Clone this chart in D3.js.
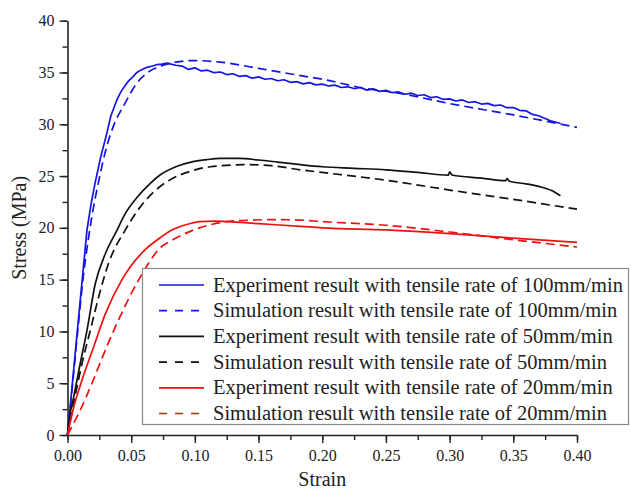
<!DOCTYPE html>
<html>
<head>
<meta charset="utf-8">
<script src="https://cdn.jsdelivr.net/npm/d3@7/dist/d3.min.js"></script>
<style>
  html, body { margin: 0; padding: 0; background: #fff; }
  svg { display: block; }
  text { font-family: "Liberation Serif", "Times New Roman", serif; fill: #222; }
</style>
</head>
<body>
<svg id="chart" width="631" height="489"></svg>
<script>
// Stress–strain curves: experiment vs simulation at three tensile rates

const exp100Strain = [0, 0.005, 0.010, 0.0153, 0.0185, 0.0216, 0.026, 0.0308, 0.034, 0.0386, 0.042, 0.045, 0.048, 0.0515,
  0.054, 0.057, 0.0624, 0.066, 0.070, 0.074, 0.078,
  0.085, 0.090, 0.095, 0.100, 0.105, 0.110, 0.115, 0.120, 0.125, 0.130, 0.135, 0.140, 0.145, 0.150, 0.155, 0.160,
  0.165, 0.170, 0.175, 0.180, 0.185, 0.190, 0.195, 0.200, 0.205, 0.210, 0.215, 0.220, 0.225, 0.230, 0.235, 0.240,
  0.245, 0.250, 0.255, 0.260, 0.265, 0.270, 0.275, 0.280, 0.285, 0.290, 0.295, 0.300, 0.305, 0.310, 0.315, 0.320,
  0.325, 0.330, 0.335, 0.340, 0.345, 0.350, 0.355, 0.360, 0.365, 0.370, 0.375, 0.380, 0.385, 0.387];
const exp100Stress = [0, 6.5, 13.0, 19.8, 22.3, 24.3, 26.8, 29.1, 30.8, 32.3, 33.15, 33.7, 34.2, 34.6,
  34.95, 35.2, 35.5, 35.6, 35.75, 35.8, 35.9,
  35.70, 35.62, 35.30, 35.45, 35.15, 35.22, 34.98, 35.05, 34.80, 34.88, 34.62, 34.70, 34.45, 34.58, 34.35, 34.42,
  34.20, 34.30, 34.05, 34.12, 33.90, 34.02, 33.80, 33.88, 33.70, 33.78, 33.55, 33.62, 33.45, 33.55, 33.30, 33.42,
  33.18, 33.28, 33.05, 33.12, 32.90, 33.00, 32.78, 32.85, 32.58, 32.66, 32.40, 32.45, 32.25, 32.35, 32.10, 32.18,
  31.95, 32.02, 31.80, 31.86, 31.60, 31.62, 31.35, 31.30, 30.95, 30.82, 30.55, 30.30, 30.15, 30.10];

const sim100Strain = [0, 0.0035, 0.008, 0.0125, 0.0166, 0.019, 0.025, 0.030, 0.036, 0.045, 0.0546, 0.063, 0.0726, 0.085,
  0.099, 0.120, 0.150, 0.183, 0.200, 0.232, 0.260, 0.300, 0.350, 0.400];
const sim100Stress = [0, 4.3, 10.0, 15.4, 19.1, 21.0, 24.8, 27.5, 29.8, 32.0, 34.0, 35.0, 35.6, 36.0,
  36.15, 36.0, 35.4, 34.7, 34.35, 33.5, 33.0, 32.0, 30.9, 29.7];

const exp50Strain = [0, 0.001, 0.0049, 0.010, 0.0153, 0.0218, 0.0297, 0.039, 0.045, 0.055, 0.065, 0.0726, 0.085, 0.0986,
  0.110, 0.120, 0.135, 0.150, 0.165, 0.183, 0.200, 0.225, 0.250, 0.275, 0.299, 0.300, 0.302, 0.325, 0.344, 0.345, 0.347,
  0.360, 0.370, 0.380, 0.387];
const exp50Stress = [0, 1.2, 3.7, 6.9, 10.1, 14.6, 17.5, 19.8, 21.3, 23.0, 24.3, 25.1, 25.9, 26.4,
  26.6, 26.7, 26.7, 26.55, 26.35, 26.1, 25.9, 25.75, 25.6, 25.35, 25.1, 25.4, 25.1, 24.8, 24.55, 24.75, 24.5,
  24.25, 24.0, 23.6, 23.1];

const sim50Strain = [0, 0.0049, 0.0114, 0.0179, 0.0245, 0.0323, 0.0454, 0.057, 0.068, 0.080, 0.095, 0.112, 0.141, 0.160,
  0.183, 0.200, 0.250, 0.300, 0.350, 0.400];
const sim50Stress = [0, 3.1, 6.9, 10.1, 13.35, 16.6, 19.8, 22.0, 23.5, 24.6, 25.4, 25.9, 26.1, 26.0,
  25.6, 25.35, 24.6, 23.65, 22.75, 21.8];

const exp20Strain = [0, 0.0049, 0.0114, 0.0205, 0.0297, 0.0428, 0.061, 0.070, 0.082, 0.093, 0.104, 0.115, 0.125, 0.150,
  0.183, 0.200, 0.250, 0.300, 0.350, 0.400];
const exp20Stress = [0, 2.7, 5.3, 8.5, 11.7, 15.0, 17.9, 18.8, 19.8, 20.3, 20.6, 20.65, 20.6, 20.4,
  20.15, 20.0, 19.8, 19.45, 19.0, 18.6];

const sim20Strain = [0, 0.010, 0.0192, 0.0297, 0.040, 0.056, 0.074, 0.082, 0.099, 0.112, 0.125, 0.145, 0.164, 0.183,
  0.200, 0.250, 0.300, 0.350, 0.400];
const sim20Stress = [0, 2.4, 5.0, 8.2, 11.1, 15.0, 18.2, 18.8, 19.8, 20.3, 20.6, 20.75, 20.8, 20.75,
  20.6, 20.25, 19.6, 18.85, 18.15];

const xTicks = [0, 0.05, 0.10, 0.15, 0.20, 0.25, 0.30, 0.35, 0.40];
const yTicks = [0, 5, 10, 15, 20, 25, 30, 35, 40];

const seriesNames = [
  "Experiment result with tensile rate of 100mm/min",
  "Simulation result with tensile rate of 100mm/min",
  "Experiment result with tensile rate of 50mm/min",
  "Simulation result with tensile rate of 50mm/min",
  "Experiment result with tensile rate of 20mm/min",
  "Simulation result with tensile rate of 20mm/min"
];
const seriesColors = ["#1414e6", "#1414e6", "#111111", "#111111", "#ee1111", "#ee1111"];
const seriesDashed = [false, true, false, true, false, true];
const seriesStrain = [exp100Strain, sim100Strain, exp50Strain, sim50Strain, exp20Strain, sim20Strain];
const seriesStress = [exp100Stress, sim100Stress, exp50Stress, sim50Stress, exp20Stress, sim20Stress];

const svg = d3.select("#chart");
const x = d3.scaleLinear().domain([0, 0.40]).range([67.5, 577]);
const y = d3.scaleLinear().domain([0, 40]).range([435, 20.7]);

const axisColor = "#222";

// minor ticks every half step
const xMinor = d3.range(0, 0.4001, 0.025);
const yMinor = d3.range(0, 40.01, 2.5);

const gx = svg.append("g").attr("transform", `translate(0,${y(0)})`);
gx.call(d3.axisBottom(x).tickValues(xMinor).tickSize(5).tickFormat(""))
  .call(g => g.select(".domain").remove());
gx.append("g").call(d3.axisBottom(x).tickValues(xTicks).tickSize(8).tickSizeOuter(0).tickPadding(7)
  .tickFormat(d3.format(".2f")));
gx.selectAll("line").attr("stroke", axisColor).attr("stroke-width", 1.4);
gx.selectAll("path.domain").attr("stroke", axisColor).attr("stroke-width", 1.6);
gx.selectAll("text").style("font-size", "16px").attr("fill", "#222");

const gy = svg.append("g").attr("transform", `translate(${x(0)},0)`);
gy.call(d3.axisLeft(y).tickValues(yMinor).tickSize(5).tickFormat(""))
  .call(g => g.select(".domain").remove());
gy.append("g").call(d3.axisLeft(y).tickValues(yTicks).tickSize(8).tickSizeOuter(0).tickPadding(5)
  .tickFormat(d3.format("d")));
gy.selectAll("line").attr("stroke", axisColor).attr("stroke-width", 1.4);
gy.selectAll("path.domain").attr("stroke", axisColor).attr("stroke-width", 1.6);
gy.selectAll("text").style("font-size", "16px").attr("fill", "#222");

// axis titles
svg.append("text")
  .attr("x", (x(0) + x(0.4)) / 2).attr("y", 486)
  .attr("text-anchor", "middle").style("font-size", "20px")
  .text("Strain");
svg.append("text")
  .attr("transform", `translate(26,${(y(0) + y(40)) / 2}) rotate(-90)`)
  .attr("text-anchor", "middle").style("font-size", "20px")
  .text("Stress (MPa)");

// curves: measured data drawn point to point, simulations smoothed
const smoothLine = d3.line().x(d => x(d[0])).y(d => y(d[1])).curve(d3.curveMonotoneX);
const rawLine = d3.line().x(d => x(d[0])).y(d => y(d[1])).curve(d3.curveLinear);
const curves = svg.append("g");
seriesNames.forEach((name, i) => {
  const pts = seriesStrain[i].map((s, k) => [s, seriesStress[i][k]]);
  const gen = (i === 0) ? rawLine : smoothLine;
  curves.append("path")
    .datum(pts)
    .attr("fill", "none")
    .attr("stroke", seriesColors[i])
    .attr("stroke-width", 1.7)
    .attr("stroke-linejoin", "round")
    .attr("stroke-dasharray", seriesDashed[i] ? "9,5" : null)
    .attr("d", gen);
});

// legend
const lg = svg.append("g");
lg.append("rect")
  .attr("x", 142.5).attr("y", 268.5).attr("width", 486).attr("height", 156)
  .attr("fill", "#fff").attr("stroke", "#8a8a8a").attr("stroke-width", 1.2);
seriesNames.forEach((name, i) => {
  const cy = 285 + i * 25.7;
  lg.append("line")
    .attr("x1", 159).attr("x2", 204).attr("y1", cy).attr("y2", cy)
    .attr("stroke", seriesColors[i]).attr("stroke-width", 1.7)
    .attr("stroke-dasharray", seriesDashed[i] ? "8,8" : null);
  lg.append("text")
    .attr("x", 213).attr("y", cy + 6.5)
    .style("font-size", "20.5px")
    .text(name);
});
</script>
</body>
</html>
